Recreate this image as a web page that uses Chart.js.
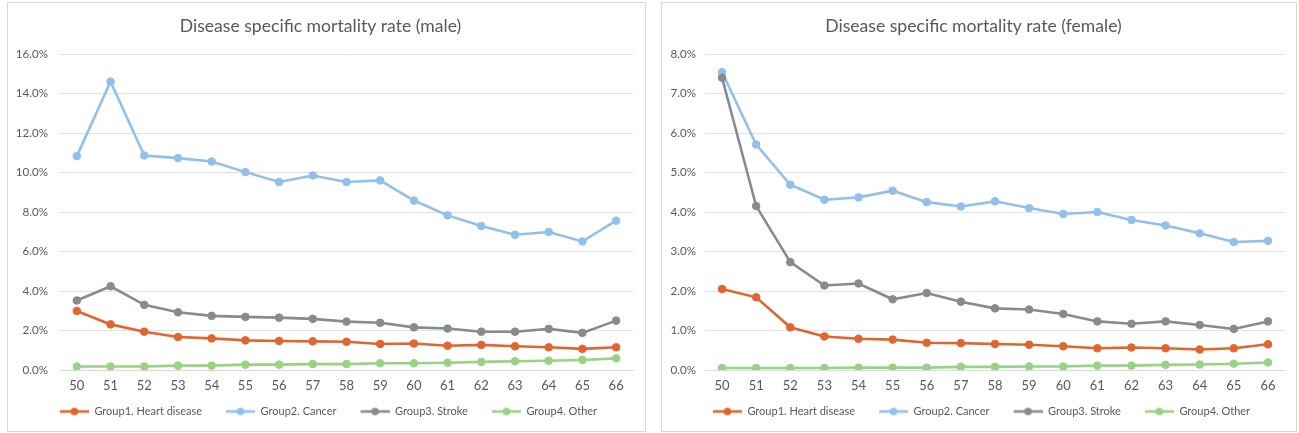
<!DOCTYPE html>
<html>
<head>
<meta charset="utf-8">
<script src="https://cdn.jsdelivr.net/npm/chart.js@4.4.1/dist/chart.umd.min.js"></script>
<style>
  html, body { margin: 0; padding: 0; background: #ffffff; }
  body { width: 1299px; height: 433px; position: relative; overflow: hidden; }
  .panel { position: absolute; box-sizing: border-box; border: 1px solid #d9d9d9; background: #fff; }
  #p1 { left: 7px; top: 2px; width: 639px; height: 430px; }
  #p2 { left: 661px; top: 2px; width: 636px; height: 430px; }
  .panel canvas { position: absolute; left: 0; top: 0; }
</style>
</head>
<body>
<div class="panel" id="p1"><canvas id="c1" width="637" height="428"></canvas></div>
<div class="panel" id="p2"><canvas id="c2" width="634" height="428"></canvas></div>
<script>
// ---- data ----
const categories = ['50','51','52','53','54','55','56','57','58','59','60','61','62','63','64','65','66'];
const seriesNames = ['Group1. Heart disease', 'Group2. Cancer', 'Group3. Stroke', 'Group4. Other'];

const maleHeart  = [2.99, 2.31, 1.94, 1.67, 1.60, 1.50, 1.47, 1.45, 1.43, 1.32, 1.34, 1.23, 1.27, 1.20, 1.15, 1.07, 1.15];
const maleCancer = [10.83, 14.60, 10.86, 10.73, 10.56, 10.02, 9.52, 9.85, 9.52, 9.60, 8.58, 7.83, 7.29, 6.85, 6.99, 6.51, 7.56];
const maleStroke = [3.52, 4.24, 3.30, 2.92, 2.74, 2.69, 2.65, 2.59, 2.45, 2.39, 2.16, 2.10, 1.94, 1.94, 2.08, 1.88, 2.50];
const maleOther  = [0.18, 0.18, 0.18, 0.22, 0.22, 0.27, 0.27, 0.30, 0.30, 0.34, 0.34, 0.37, 0.41, 0.44, 0.47, 0.51, 0.59];

const femaleHeart  = [2.05, 1.84, 1.08, 0.85, 0.79, 0.77, 0.69, 0.68, 0.66, 0.64, 0.60, 0.55, 0.57, 0.55, 0.52, 0.55, 0.65];
const femaleCancer = [7.54, 5.71, 4.69, 4.31, 4.37, 4.54, 4.25, 4.14, 4.27, 4.10, 3.95, 4.00, 3.80, 3.66, 3.46, 3.24, 3.27];
const femaleStroke = [7.40, 4.15, 2.73, 2.14, 2.19, 1.79, 1.95, 1.73, 1.56, 1.53, 1.42, 1.23, 1.17, 1.23, 1.14, 1.04, 1.23];
const femaleOther  = [0.05, 0.05, 0.05, 0.05, 0.06, 0.06, 0.06, 0.08, 0.08, 0.09, 0.09, 0.11, 0.11, 0.13, 0.14, 0.16, 0.19];

const maleTitle = 'Disease specific mortality rate (male)';
const femaleTitle = 'Disease specific mortality rate (female)';
const maleYMax = 16, maleYStep = 2;
const femaleYMax = 8, femaleYStep = 1;

// ---- styles ----
const colors = ['#e2642e', '#92c0ea', '#858b91', '#98d283'];
const textColor = '#595959';
const fontFamily = 'Lato, "Open Sans", sans-serif';

const MARK_BLANK = 16, MARK_LEN = 29;
function legendMarker(color) {
  const c = document.createElement('canvas');
  c.width = MARK_BLANK + MARK_LEN; c.height = 10;
  const g = c.getContext('2d');
  g.strokeStyle = color; g.lineWidth = 2.6;
  g.beginPath(); g.moveTo(MARK_BLANK, 5); g.lineTo(MARK_BLANK + MARK_LEN, 5); g.stroke();
  g.fillStyle = color;
  g.beginPath(); g.arc(MARK_BLANK + MARK_LEN / 2, 5, 3.8, 0, Math.PI * 2); g.fill();
  return c;
}
const markers = colors.map(legendMarker);

function makeChart(id, title, values, yMax, yStep, axisWidth, padRight, tickPad) {
  const datasets = values.map((v, i) => ({
    label: seriesNames[i],
    data: v,
    borderColor: colors[i],
    backgroundColor: colors[i],
    pointBackgroundColor: colors[i],
    pointBorderColor: colors[i],
    borderWidth: 2.6,
    pointRadius: 3.8,
    pointBorderWidth: 1,
    tension: 0,
    order: 4 - i
  }));
  return new Chart(document.getElementById(id), {
    type: 'line',
    data: { labels: categories, datasets },
    options: {
      responsive: false,
      animation: false,
      devicePixelRatio: 1,
      layout: { padding: { left: 0, right: padRight, top: 0, bottom: 4 } },
      plugins: {
        tooltip: { enabled: false },
        title: {
          display: true,
          text: title,
          color: textColor,
          font: { family: fontFamily, size: 17.6, weight: 'normal' },
          padding: { top: 13.2, bottom: 16.7 }
        },
        legend: {
          position: 'bottom',
          labels: {
            usePointStyle: true,
            pointStyleWidth: MARK_BLANK + MARK_LEN,
            boxHeight: 10,
            padding: 8,
            color: textColor,
            font: { family: fontFamily, size: 11 },
            sort: (a, b) => a.datasetIndex - b.datasetIndex,
            generateLabels: (chart) => {
              const items = Chart.defaults.plugins.legend.labels.generateLabels(chart);
              items.forEach(it => { it.pointStyle = markers[it.datasetIndex]; });
              return items;
            }
          }
        }
      },
      scales: {
        x: {
          offset: true,
          afterFit: (scale) => { scale.height = 28; },
          grid: { display: false, drawTicks: false },
          border: { display: true, color: '#d9d9d9' },
          ticks: { color: textColor, font: { family: fontFamily, size: 13 }, padding: 8, maxRotation: 0, autoSkip: false }
        },
        y: {
          min: 0,
          max: yMax,
          afterFit: (scale) => { scale.width = axisWidth; },
          grid: { color: '#e2e2e2', drawTicks: false, lineWidth: 1 },
          border: { display: false },
          ticks: {
            stepSize: yStep,
            color: textColor,
            font: { family: fontFamily, size: 11.6 },
            padding: tickPad,
            callback: (v) => Number(v).toFixed(1) + '%'
          }
        }
      }
    }
  });
}

makeChart('c1', maleTitle, [maleHeart, maleCancer, maleStroke, maleOther], maleYMax, maleYStep, 52, 12, 12);
makeChart('c2', femaleTitle, [femaleHeart, femaleCancer, femaleStroke, femaleOther], femaleYMax, femaleYStep, 43, 11, 9);
</script>
</body>
</html>
